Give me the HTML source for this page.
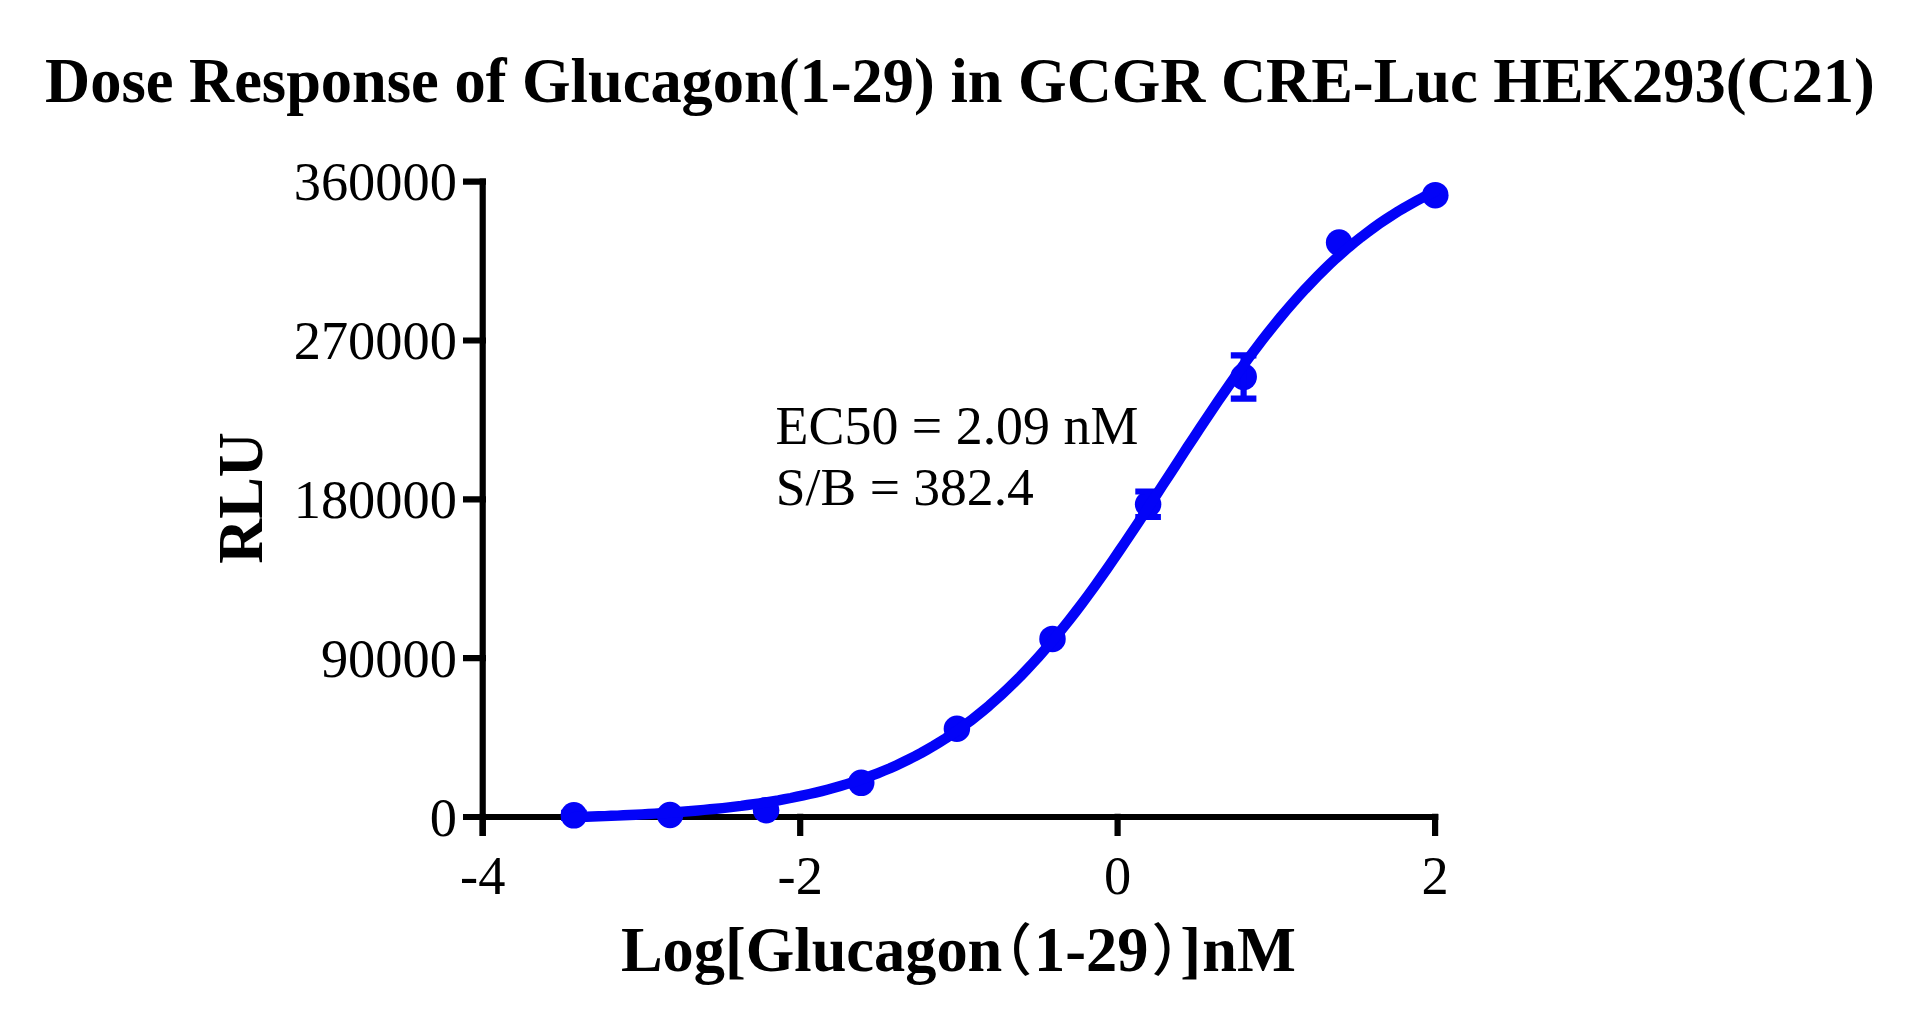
<!DOCTYPE html>
<html lang="en"><head><meta charset="utf-8"><title>Dose Response of Glucagon(1-29) in GCGR CRE-Luc HEK293(C21)</title>
<style>
html,body{margin:0;padding:0;background:#fff;}
body{width:1920px;height:1030px;overflow:hidden;}
svg{display:block;}
text{font-family:"Liberation Serif","Noto Serif CJK SC",serif;fill:#000;}
.b{font-weight:bold;}
.p{font-family:"Noto Sans CJK SC","Noto Serif CJK SC",sans-serif;font-size:56.6px;font-weight:500;}
</style></head><body>
<svg width="1920" height="1030" viewBox="0 0 1920 1030">
<rect width="1920" height="1030" fill="#fff"/>
<text class="b" x="960" y="101.6" font-size="62.45" text-anchor="middle">Dose Response of Glucagon(1-29) in GCGR CRE-Luc HEK293(C21)</text>
<g fill="none" stroke="#000" stroke-width="6.2">
<path d="M482.7 178.45V836M479.45 817H1438.35"/>
<path d="M463 817H486M463 658.2H486M463 499.4H486M463 340.5H486M463 181.7H486M482.7 813.75V836M800.2 813.75V836M1117.6 813.75V836M1435.1 813.75V836"/>
</g>
<g font-size="54.4">
<text x="456.9" y="835.7" text-anchor="end">0</text>
<text x="456.9" y="676.9" text-anchor="end">90000</text>
<text x="456.9" y="518.1" text-anchor="end">180000</text>
<text x="456.9" y="359.2" text-anchor="end">270000</text>
<text x="456.9" y="200.4" text-anchor="end">360000</text>
<text x="482.7" y="894" text-anchor="middle">-4</text>
<text x="800.2" y="894" text-anchor="middle">-2</text>
<text x="1117.6" y="894" text-anchor="middle">0</text>
<text x="1435.1" y="894" text-anchor="middle">2</text>
</g>
<text class="b" font-size="62.4" text-anchor="middle" transform="translate(262 498) rotate(-90)">RLU</text>
<text class="b" font-size="62.4" y="970.9"><tspan x="621">Log[Glucagon</tspan><tspan class="p" x="975.6" y="970.2">（</tspan><tspan x="1034.1" y="970.9">1-29</tspan><tspan class="p" x="1151.5" y="970.2">）</tspan><tspan x="1180.2" y="970.9">]</tspan><tspan x="1202.2">nM</tspan></text>
<g font-size="53.9">
<text x="775.6" y="444.4">EC50 = 2.09 nM</text>
<text x="775.8" y="505.1" font-size="53.6">S/B = 382.4</text>
</g>
<g fill="#0303f8" stroke="none">
<circle cx="573.9" cy="815.3" r="13.25"/>
<circle cx="670" cy="815" r="13.25"/>
<circle cx="766.1" cy="810.2" r="13.25"/>
<circle cx="861.25" cy="782.8" r="13.25"/>
<circle cx="956.9" cy="728.75" r="13.25"/>
<circle cx="1052.5" cy="638.9" r="13.25"/>
<circle cx="1148.1" cy="504.25" r="13.25"/>
<circle cx="1243.7" cy="376.8" r="13.25"/>
<circle cx="1339.1" cy="242.6" r="13.25"/>
<circle cx="1435.3" cy="195.2" r="13.25"/>
</g>
<g fill="none" stroke="#0303f8">
<path d="M1148.1 491.5V517.0M1135.3 491.5H1160.8999999999999M1135.3 517.0H1160.8999999999999" stroke-width="6.2"/>
<path d="M1243.6 355.4V398.6M1230.8 355.4H1256.3999999999999M1230.8 398.6H1256.3999999999999" stroke-width="6.2"/>
<path d="M573.9 812.8V817.8M561.1 812.8H586.6999999999999M561.1 817.8H586.6999999999999" stroke-width="6.2"/>
<polyline points="573.9,817.1 580.1,816.9 586.3,816.7 592.5,816.5 598.7,816.3 604.9,816.1 611.1,815.8 617.3,815.6 623.5,815.3 629.7,815.0 635.9,814.7 642.1,814.4 648.3,814.0 654.5,813.6 660.7,813.3 666.9,812.9 673.1,812.4 679.3,812.0 685.4,811.5 691.6,811.0 697.8,810.5 704.0,809.9 710.2,809.3 716.4,808.7 722.6,808.1 728.8,807.4 735.0,806.6 741.2,805.9 747.4,805.0 753.6,804.2 759.8,803.3 766.0,802.3 772.2,801.3 778.4,800.3 784.6,799.1 790.8,798.0 797.0,796.7 803.2,795.4 809.4,794.0 815.6,792.6 821.8,791.1 828.0,789.5 834.2,787.8 840.4,786.0 846.6,784.1 852.8,782.2 859.0,780.1 865.2,778.0 871.4,775.7 877.6,773.3 883.8,770.8 890.0,768.2 896.2,765.4 902.3,762.5 908.5,759.5 914.7,756.4 920.9,753.1 927.1,749.6 933.3,746.0 939.5,742.2 945.7,738.3 951.9,734.2 958.1,729.9 964.3,725.4 970.5,720.8 976.7,715.9 982.9,710.9 989.1,705.7 995.3,700.2 1001.5,694.6 1007.7,688.8 1013.9,682.8 1020.1,676.6 1026.3,670.1 1032.5,663.5 1038.7,656.7 1044.9,649.6 1051.1,642.4 1057.3,634.9 1063.5,627.3 1069.7,619.5 1075.9,611.5 1082.1,603.3 1088.3,595.0 1094.5,586.5 1100.7,577.8 1106.9,569.0 1113.0,560.1 1119.2,551.0 1125.4,541.9 1131.6,532.6 1137.8,523.3 1144.0,513.8 1150.2,504.4 1156.4,494.9 1162.6,485.3 1168.8,475.8 1175.0,466.3 1181.2,456.7 1187.4,447.2 1193.6,437.8 1199.8,428.4 1206.0,419.1 1212.2,409.9 1218.4,400.7 1224.6,391.7 1230.8,382.8 1237.0,374.1 1243.2,365.5 1249.4,357.0 1255.6,348.8 1261.8,340.6 1268.0,332.7 1274.2,325.0 1280.4,317.4 1286.6,310.0 1292.8,302.9 1299.0,295.9 1305.2,289.1 1311.4,282.6 1317.6,276.2 1323.8,270.0 1329.9,264.1 1336.1,258.3 1342.3,252.8 1348.5,247.4 1354.7,242.3 1360.9,237.3 1367.1,232.6 1373.3,228.0 1379.5,223.6 1385.7,219.4 1391.9,215.3 1398.1,211.4 1404.3,207.7 1410.5,204.2 1416.7,200.8 1422.9,197.5 1429.1,194.4 1435.3,191.4" stroke-width="10.4" stroke-linejoin="round" stroke-linecap="round"/>
</g>
</svg>
</body></html>
